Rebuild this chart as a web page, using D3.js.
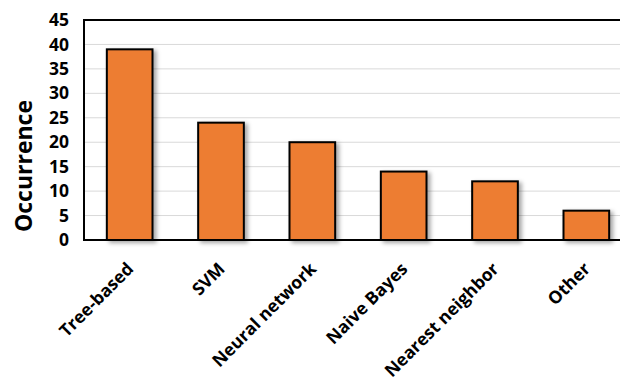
<!DOCTYPE html>
<html>
<head>
<meta charset="utf-8">
<script src="https://cdn.jsdelivr.net/npm/d3@7/dist/d3.min.js"></script>
<style>
  html, body { margin: 0; padding: 0; background: #fff; }
  svg { display: block; font-family: "Open Sans", Lato, sans-serif; }
</style>
</head>
<body>
<svg id="chart" width="620" height="378"></svg>
<script>
// Classifier families and how often each occurs
const categories = ["Tree-based", "SVM", "Neural network", "Naive Bayes", "Nearest neighbor", "Other"];
const occurrence = [39, 24, 20, 14, 12, 6];
const yTicks = [0, 5, 10, 15, 20, 25, 30, 35, 40, 45];

const svg = d3.select("#chart");
const margin = { left: 84, top: 20, bottom: 240 };
const plotRight = 632; // plot frame runs past the right edge of the canvas

const x = d3.scaleBand()
  .domain(categories)
  .range([margin.left, plotRight])
  .paddingInner(0.5)
  .paddingOuter(0.25);

const y = d3.scaleLinear()
  .domain([0, 45])
  .range([margin.bottom, margin.top]);

// soft drop shadow for the bars
const defs = svg.append("defs");
const f = defs.append("filter").attr("id", "shadow")
  .attr("x", "-20%").attr("y", "-20%").attr("width", "150%").attr("height", "150%");
f.append("feDropShadow")
  .attr("dx", 3).attr("dy", 2).attr("stdDeviation", 2)
  .attr("flood-color", "#000").attr("flood-opacity", 0.35);

// horizontal gridlines
svg.append("g")
  .selectAll("line")
  .data(yTicks.filter(t => t > 0 && t < 45))
  .join("line")
  .attr("x1", margin.left).attr("x2", plotRight)
  .attr("y1", d => y(d)).attr("y2", d => y(d))
  .attr("stroke", "#d9d9d9").attr("stroke-width", 1);

// bars
svg.append("g")
  .selectAll("rect")
  .data(categories.map((c, i) => ({ c, v: occurrence[i] })))
  .join("rect")
  .attr("x", d => x(d.c))
  .attr("y", d => y(d.v))
  .attr("width", x.bandwidth())
  .attr("height", d => y(0) - y(d.v))
  .attr("fill", "#ED7D31")
  .attr("stroke", "#000")
  .attr("stroke-width", 2)
  .attr("filter", "url(#shadow)");

// plot frame
svg.append("path")
  .attr("d", `M${plotRight},${y(45)}H${margin.left}V${y(0)}H${plotRight}`)
  .attr("fill", "none").attr("stroke", "#000").attr("stroke-width", 2);

// y axis tick labels
const yAxis = d3.axisLeft(y).tickValues(yTicks).tickSize(0).tickPadding(15);
const gy = svg.append("g").attr("transform", `translate(${margin.left},0)`).call(yAxis);
gy.select(".domain").remove();
gy.selectAll("text")
  .attr("font-size", 17.5).attr("font-weight", 700).attr("fill", "#000")
  .attr("font-family", "'Open Sans', Lato, sans-serif");

// x axis category labels, rotated
const xAxis = d3.axisBottom(x).tickSize(0).tickPadding(0);
const gx = svg.append("g").attr("transform", `translate(0,${y(0)})`).call(xAxis);
gx.select(".domain").remove();
gx.selectAll("text")
  .attr("font-size", 17.5).attr("font-weight", 700).attr("fill", "#000")
  .attr("font-family", "'Open Sans', Lato, sans-serif")
  .attr("text-anchor", "end")
  .attr("dy", 0)
  .attr("transform", "translate(5,30) rotate(-45)");

// y axis title
svg.append("text")
  .attr("transform", "translate(32,166) rotate(-90)")
  .attr("text-anchor", "middle")
  .attr("font-size", 23).attr("font-weight", 700).attr("fill", "#000")
  .text("Occurrence");
</script>
</body>
</html>
